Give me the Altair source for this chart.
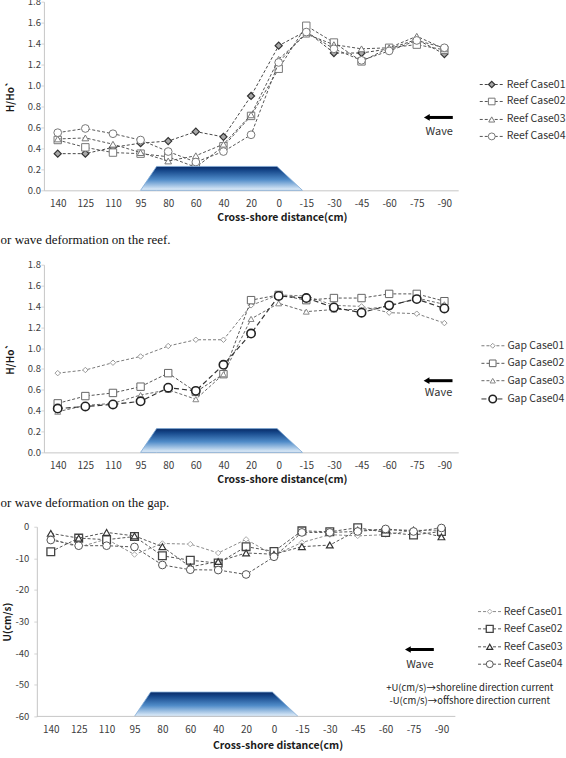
import json
import altair as alt
import pandas as pd

categories = ["140", "125", "110", "95", "80", "60", "40", "20", "0",
              "-15", "-30", "-45", "-60", "-75", "-90"]

reef_names = ["Reef Case01", "Reef Case02", "Reef Case03", "Reef Case04"]
reef_case01 = [0.35, 0.35, 0.41, 0.45, 0.47, 0.56, 0.51, 0.90, 1.38, 1.52, 1.31, 1.31, 1.35, 1.44, 1.30]
reef_case02 = [0.48, 0.41, 0.36, 0.35, 0.32, 0.22, 0.42, 0.71, 1.16, 1.57, 1.41, 1.23, 1.36, 1.39, 1.34]
reef_case03 = [0.49, 0.50, 0.44, 0.36, 0.28, 0.33, 0.44, 0.72, 1.25, 1.49, 1.39, 1.35, 1.36, 1.47, 1.35]
reef_case04 = [0.55, 0.59, 0.54, 0.48, 0.37, 0.27, 0.37, 0.53, 1.22, 1.51, 1.35, 1.24, 1.33, 1.43, 1.36]

gap_names = ["Gap Case01", "Gap Case02", "Gap Case03", "Gap Case04"]
gap_case01 = [0.76, 0.79, 0.86, 0.92, 1.02, 1.08, 1.08, 1.41, 1.51, 1.50, 1.41, 1.40, 1.34, 1.33, 1.24]
gap_case02 = [0.47, 0.54, 0.57, 0.63, 0.76, 0.58, 0.75, 1.46, 1.51, 1.46, 1.48, 1.48, 1.52, 1.52, 1.45]
gap_case03 = [0.39, 0.45, 0.47, 0.55, 0.60, 0.51, 0.75, 1.28, 1.43, 1.35, 1.37, 1.37, 1.40, 1.48, 1.42]
gap_case04 = [0.42, 0.44, 0.46, 0.49, 0.62, 0.59, 0.84, 1.14, 1.50, 1.48, 1.39, 1.34, 1.41, 1.47, 1.38]

u_names = ["Reef Case01", "Reef Case02", "Reef Case03", "Reef Case04"]
u_case01 = [-3.7, -6.5, -3.9, -8.8, -5.3, -5.5, -8.3, -4.0, -9.0, -5.0, -2.5, -2.9, -2.5, -1.1, -1.3]
u_case02 = [-7.9, -3.6, -4.1, -3.1, -9.2, -10.6, -11.5, -6.3, -7.8, -1.3, -1.6, -0.3, -1.8, -2.6, -1.5]
u_case03 = [-2.1, -3.6, -1.8, -2.9, -6.3, -12.7, -11.0, -8.3, -8.7, -6.3, -5.8, -1.1, -1.0, -1.1, -3.2]
u_case04 = [-4.2, -6.0, -6.0, -6.4, -12.1, -13.6, -13.7, -15.1, -9.5, -1.8, -1.8, -1.5, -0.7, -1.5, -0.4]

# reef body outline (category index units / value units)
reef_x = [3.0, 3.58, 7.94, 8.86]
reef_top_h = [0.0, 0.228, 0.228, 0.0]
reef_base_h = [0.0, 0.0, 0.0, 0.0]
reef_top_u = [-60.0, -52.3, -52.3, -60.0]
reef_base_u = [-60.0, -60.0, -60.0, -60.0]

captions = ["or wave deformation on the reef.", "or wave deformation on the gap.", None]
notes = ["+U(cm/s)\u2192shoreline direction current", "-U(cm/s)\u2192offshore direction current"]

FONT = "Noto Sans CJK KR"
SERIF = "Liberation Serif"
AX = "#c6c6c6"
LAB = "#404040"

label_expr = json.dumps(categories) + "[round(datum.value)]"

gradient = alt.Gradient(
    gradient="linear",
    stops=[
        alt.GradientStop(color="#082a66", offset=0),
        alt.GradientStop(color="#17498c", offset=0.18),
        alt.GradientStop(color="#4f8bc8", offset=0.55),
        alt.GradientStop(color="#e6f1fb", offset=1),
    ],
    x1=0, x2=0, y1=0, y2=1,
)

styles_reef = [
    dict(shape="diamond", size=50, fill="#a8a8a8", stroke="#333333", sw=1.2, line="#474747", dash=[3, 2], lw=1),
    dict(shape="square", size=55, fill="white", stroke="#777777", sw=1, line="#555555", dash=[3, 2], lw=1),
    dict(shape="triangle-up", size=45, fill="white", stroke="#777777", sw=1, line="#555555", dash=[3, 2], lw=1),
    dict(shape="circle", size=60, fill="white", stroke="#777777", sw=1, line="#555555", dash=[3, 2], lw=1),
]
styles_gap = [
    dict(shape="diamond", size=30, fill="white", stroke="#999999", sw=1, line="#7a7a7a", dash=[3, 2], lw=1),
    dict(shape="square", size=55, fill="white", stroke="#666666", sw=1, line="#555555", dash=[3, 2], lw=1),
    dict(shape="triangle-up", size=35, fill="white", stroke="#888888", sw=1, line="#666666", dash=[3, 2], lw=1),
    dict(shape="circle", size=70, fill="white", stroke="#222222", sw=1.6, line="#333333", dash=[5, 3], lw=1.2),
]
styles_u = [
    dict(shape="diamond", size=30, fill="white", stroke="#aaaaaa", sw=1, line="#8a8a8a", dash=[3, 2], lw=1),
    dict(shape="square", size=60, fill="white", stroke="#444444", sw=1.3, line="#555555", dash=[3, 2], lw=1),
    dict(shape="triangle-up", size=45, fill="white", stroke="#333333", sw=1.2, line="#555555", dash=[3, 2], lw=1),
    dict(shape="circle", size=60, fill="white", stroke="#555555", sw=1, line="#555555", dash=[3, 2], lw=1),
]


def one_row(**kw):
    return pd.DataFrame([kw])


def make_panel(names, values, styles, reef_top, reef_base, cfg):
    xs = alt.Scale(domain=cfg["xdom"], nice=False, zero=False)
    ys = alt.Scale(domain=cfg["ydom"], nice=False, zero=False)
    xaxis = alt.Axis(
        values=list(range(len(categories))), labelExpr=label_expr,
        title="Cross-shore distance(cm)", ticks=False, tickSize=0, labelPadding=8,
        labelFont=FONT, labelFontSize=10, labelColor=LAB, labelFlush=False, labelOverlap=False,
        titleX=cfg["xtx"], titleY=cfg["xty"], titleBaseline="middle", titleAlign="center",
        titleFont=FONT, titleFontSize=10.5, titleFontWeight="bold", titleColor="#1a1a1a",
        domain=cfg["xline"], domainColor=AX, grid=False,
    )
    yaxis = alt.Axis(
        values=cfg["yticks"], labelExpr=cfg["ylab"], title=cfg["ytitle"],
        titleX=cfg["ytx"], titleBaseline="middle", titleAlign="center", titleAngle=-90,
        titleFont=FONT, titleFontSize=10, titleFontWeight="bold", titleColor="#1a1a1a",
        labelFont=FONT, labelFontSize=9.5, labelColor=LAB, labelPadding=cfg["ylp"], labelFlush=False,
        tickSize=3, tickColor="#d4d4d4", domainColor=AX, grid=False, offset=cfg["yoff"],
    )
    X = lambda f="i": alt.X(f"{f}:Q", scale=xs, axis=xaxis)
    Y = lambda f="v": alt.Y(f"{f}:Q", scale=ys, axis=yaxis)

    layers = []
    idx = list(range(len(categories)))
    for vals, st in zip(values, styles):
        base = alt.Chart(pd.DataFrame({"i": idx, "v": vals}))
        layers.append(base.mark_line(color=st["line"], strokeDash=st["dash"], strokeWidth=st["lw"]).encode(x=X(), y=Y()))
        layers.append(base.mark_point(shape=st["shape"], size=st["size"], filled=True, fill=st["fill"],
                                      stroke=st["stroke"], strokeWidth=st["sw"], opacity=1).encode(x=X(), y=Y()))

    # reef body
    reef_df = pd.DataFrame({"i": reef_x, "v": reef_top, "v2": reef_base})
    layers.append(alt.Chart(reef_df).mark_area(color=gradient, stroke="#7fa9d6", strokeWidth=0.8, opacity=1)
                  .encode(x=X(), y=Y(), y2="v2:Q"))

    if not cfg["xline"]:
        bl = pd.DataFrame({"i": [-0.5], "i2": [len(categories) - 0.5], "v": [cfg["ydom"][0]]})
        layers.append(alt.Chart(bl).mark_rule(color=AX, strokeWidth=1).encode(x=X(), x2="i2:Q", y=Y()))

    # legend
    lx0, lx1, lm, lt = cfg["leg_x"]
    for name, st, ry in zip(names, styles, cfg["leg_y"]):
        d = alt.Chart(one_row(name=name))
        layers.append(d.mark_rule(color=st["line"], strokeDash=st["dash"], strokeWidth=1).encode(
            x=alt.value(lx0), x2=alt.value(lx1), y=alt.value(ry)))
        layers.append(d.mark_point(shape=st["shape"], size=st["size"] * 0.8, filled=True, fill=st["fill"],
                                   stroke=st["stroke"], strokeWidth=st["sw"], opacity=1).encode(
            x=alt.value(lm), y=alt.value(ry)))
        layers.append(d.mark_text(align="left", baseline="middle", font=FONT, fontSize=10.5, color="#333333").encode(
            x=alt.value(lt), y=alt.value(ry), text="name:N"))

    # wave arrow
    ax0, ax1, ay = cfg["arrow"]
    arr = alt.Chart(one_row(t="Wave"))
    layers.append(arr.mark_rule(color="black", strokeWidth=3).encode(
        x=alt.value(ax0 + 5), x2=alt.value(ax1), y=alt.value(ay)))
    layers.append(arr.mark_point(shape="triangle-left", size=45, filled=True, color="black", opacity=1).encode(
        x=alt.value(ax0 + 4), y=alt.value(ay)))
    wx, wy = cfg["wave"]
    layers.append(arr.mark_text(align="center", baseline="middle", font=FONT, fontSize=11, color="#333333").encode(
        x=alt.value(wx), y=alt.value(wy), text="t:N"))

    if cfg.get("caption"):
        cx, cy = cfg["cap_pos"]
        layers.append(alt.Chart(one_row(t=cfg["caption"])).mark_text(
            align="left", baseline="middle", font=SERIF, fontSize=13, color="#111111").encode(
            x=alt.value(cx), y=alt.value(cy), text="t:N"))

    if cfg.get("notes"):
        nx, nys = cfg["notes_pos"]
        for line, ny in zip(cfg["notes"], nys):
            layers.append(alt.Chart(one_row(t=line)).mark_text(
                align="center", baseline="middle", font=FONT, fontSize=9.5, color="#222222").encode(
                x=alt.value(nx), y=alt.value(ny), text="t:N"))

    return alt.layer(*layers).properties(width=cfg["W"], height=cfg["H"])


h_ticks = [round(0.2 * k, 1) for k in range(10)]
u_ticks = [-60, -50, -40, -30, -20, -10, 0]

cfg1 = dict(W=415, H=189, xdom=[-0.5, 14.5], ydom=[0, 1.8], yticks=h_ticks,
            ylab="format(datum.value, '.1f')", ytitle="H/Ho`", ytx=-33, ylp=0.5, yoff=0,
            xtx=238.4, xty=27, xline=True,
            leg_x=(436.6, 460.6, 448.6, 463.6), leg_y=[83, 100, 118, 135],
            arrow=(379.6, 409.6, 116), wave=(396, 131),
            caption=captions[0], cap_pos=(-43.4, 239))
cfg2 = dict(W=415, H=188, xdom=[-0.5, 14.5], ydom=[0, 1.8], yticks=h_ticks,
            ylab="format(datum.value, '.1f')", ytitle="H/Ho`", ytx=-33, ylp=0.5, yoff=0,
            xtx=238.4, xty=26.7, xline=True,
            leg_x=(438.3, 461.6, 449.6, 464.3), leg_y=[81.2, 98.8, 116.2, 134.5],
            arrow=(379.3, 409.3, 116.2), wave=(395.3, 128.8),
            caption=captions[1], cap_pos=(-43.4, 238.5))
cfg3 = dict(W=412, H=190, xdom=[-0.246, 14.494], ydom=[-60, 0], yticks=u_ticks,
            ylab="toString(datum.value)", ytitle="U(cm/s)", ytx=-29.3, ylp=5, yoff=7.1,
            xtx=234, xty=28.7, xline=False,
            leg_x=(434.9, 458.3, 446.6, 460.6), leg_y=[85, 102.3, 120.3, 137.7],
            arrow=(360.6, 390.6, 123), wave=(376.6, 139),
            notes=notes, notes_pos=(426.6, [161.8, 174.4]))

p1 = make_panel(reef_names, [reef_case01, reef_case02, reef_case03, reef_case04], styles_reef,
                reef_top_h, reef_base_h, cfg1)
p2 = make_panel(gap_names, [gap_case01, gap_case02, gap_case03, gap_case04], styles_gap,
                reef_top_h, reef_base_h, cfg2)
p3 = make_panel(u_names, [u_case01, u_case02, u_case03, u_case04], styles_u,
                reef_top_u, reef_base_u, cfg3)

chart = alt.vconcat(p1, p2, p3, spacing=74.5, bounds="flush").properties(
    padding={"left": 0, "top": -4, "right": 0, "bottom": 0},
    background="white",
).configure_view(stroke=None)

chart.save("out.html", embed_options={"renderer": "svg", "actions": False})
